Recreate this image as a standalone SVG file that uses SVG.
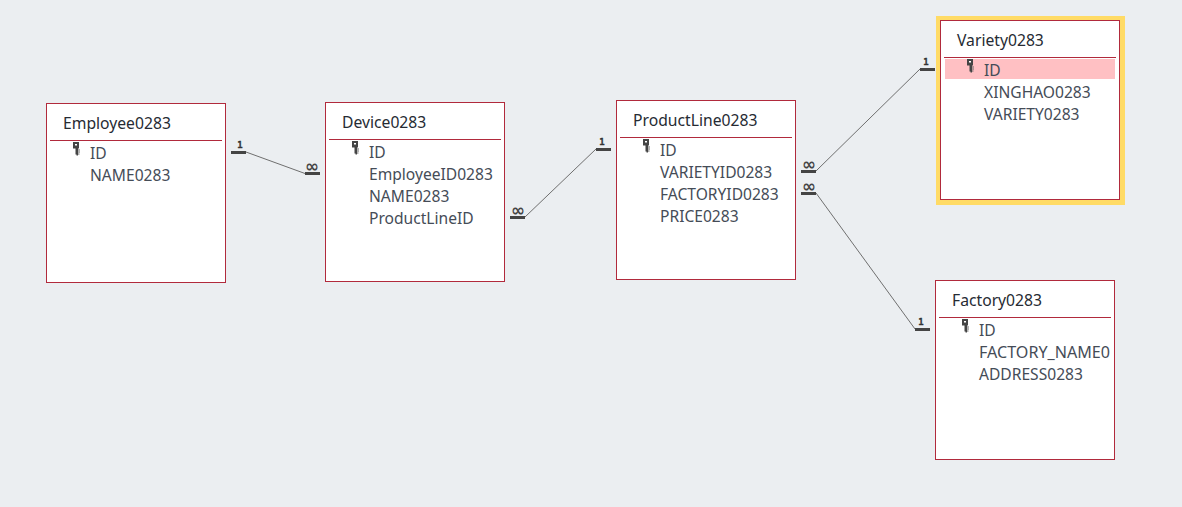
<svg xmlns="http://www.w3.org/2000/svg" width="1182" height="507" viewBox="0 0 1182 507">
<style>
.box{fill:#fff;stroke:#b12a3c;stroke-width:1}
.rule{stroke:#b12a3c;stroke-width:1}
.title{font:15.700px "Noto Sans","Open Sans",sans-serif;fill:#262b33}
.field{font:15.600px "Noto Sans","Open Sans",sans-serif;fill:#454c57}
.bar{stroke:#444;stroke-width:3;fill:none}
.wire{stroke:#6f6f6f;stroke-width:1;fill:none}
.one{font:bold 9px "DejaVu Sans Mono",monospace;fill:#333;stroke:#333;stroke-width:.3;text-anchor:middle}
.many{font:bold 17px "DejaVu Sans",sans-serif;fill:#444;text-anchor:middle}
</style>
<defs>
<g id="key"><path d="M0 0h6v6.500h-1v7h-1.500v-1h-1v-6h-2.500z" fill="#444"/><rect x="2" y="2" width="2" height="1.500" fill="#fff"/><path d="M5 8h2M5 10h2M5 12h1.500" stroke="#666" stroke-width="1"/></g>
</defs>
<rect width="1182" height="507" fill="#ebeef1"/>
<g id="connectors">
<path class="wire" d="M246 152L305 173.500"/><path class="bar" d="M231 152.500h15M305 173.500h15"/><text class="one" x="240" y="148">1</text><text class="many" x="312" y="172">∞</text>
<path class="wire" d="M525 217L596 149"/><path class="bar" d="M510 217.500h15M596 149.500h15"/><text class="one" x="602" y="145">1</text><text class="many" x="518" y="216">∞</text>
<path class="wire" d="M816 171L920 69"/><path class="bar" d="M801 171.500h15M920 69.500h15"/><text class="one" x="926" y="65">1</text><text class="many" x="809" y="170">∞</text>
<path class="wire" d="M816 193L915 329"/><path class="bar" d="M801 193.500h15M915 329.500h15"/><text class="one" x="921" y="325">1</text><text class="many" x="809" y="192">∞</text>
</g>
<g id="employee">
<rect class="box" x="46.500" y="103.500" width="179" height="179"/><path class="rule" d="M50 140.500h172"/>
<text class="title" x="63" y="129">Employee0283</text><use href="#key" x="73" y="142"/>
<text class="field" x="90" y="159">ID</text><text class="field" x="90" y="181">NAME0283</text>
</g>
<g id="device">
<rect class="box" x="325.500" y="102.500" width="179" height="179"/><path class="rule" d="M329 139.500h172"/>
<text class="title" x="342" y="128">Device0283</text><use href="#key" x="352" y="141"/>
<text class="field" x="369" y="158">ID</text><text class="field" x="369" y="180">EmployeeID0283</text><text class="field" x="369" y="202">NAME0283</text><text class="field" x="369" y="224">ProductLineID</text>
</g>
<g id="productline">
<rect class="box" x="616.500" y="100.500" width="179" height="179"/><path class="rule" d="M620 137.500h172"/>
<text class="title" x="633" y="126">ProductLine0283</text><use href="#key" x="643" y="139"/>
<text class="field" x="660" y="156">ID</text><text class="field" x="660" y="178">VARIETYID0283</text><text class="field" x="660" y="200">FACTORYID0283</text><text class="field" x="660" y="222">PRICE0283</text>
</g>
<g id="variety">
<rect x="936" y="16" width="189" height="189" fill="#ffdb66"/>
<rect class="box" x="940.500" y="20.500" width="179" height="179"/><path class="rule" d="M944 57.500h172"/>
<rect x="945" y="59" width="170" height="20" fill="#ffc0c3"/>
<text class="title" x="957" y="46">Variety0283</text><use href="#key" x="967" y="59"/>
<text class="field" x="984" y="76">ID</text><text class="field" x="984" y="98">XINGHAO0283</text><text class="field" x="984" y="120">VARIETY0283</text>
</g>
<g id="factory">
<rect class="box" x="935.500" y="280.500" width="179" height="179"/><path class="rule" d="M939 317.500h172"/>
<text class="title" x="952" y="306">Factory0283</text><use href="#key" x="962" y="319"/>
<text class="field" x="979" y="336">ID</text><text class="field" x="979" y="358" textLength="131" lengthAdjust="spacingAndGlyphs">FACTORY_NAME0</text><text class="field" x="979" y="380">ADDRESS0283</text>
</g>
</svg>
